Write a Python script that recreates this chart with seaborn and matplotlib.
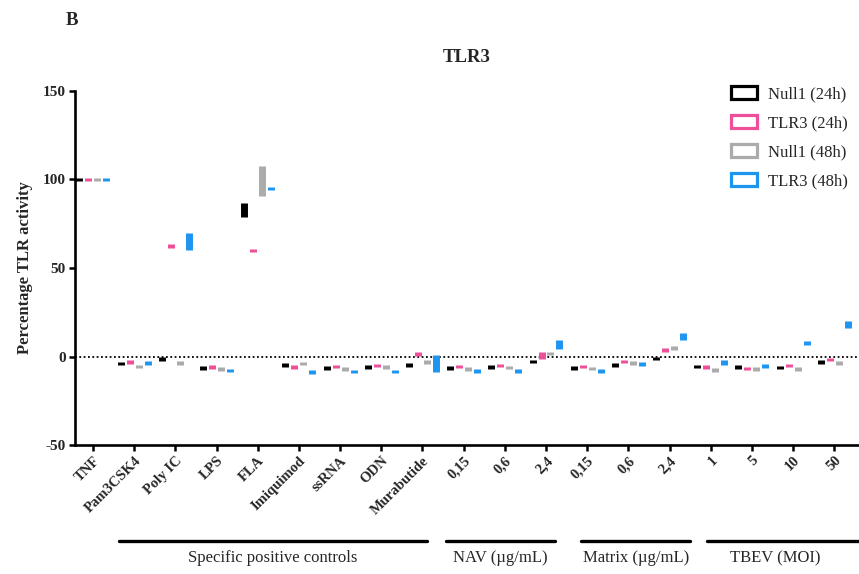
import numpy as np
import pandas as pd
import matplotlib
matplotlib.use("Agg")
import matplotlib.pyplot as plt
import matplotlib.transforms as mtransforms
from matplotlib.patches import Patch
import seaborn as sns

# categories (unique keys) and the labels shown under the ticks
cat_keys = ["TNF", "Pam3CSK4", "Poly IC", "LPS", "FLA", "Imiquimod", "ssRNA", "ODN",
            "Murabutide", "NAV 0,15", "NAV 0,6", "NAV 2,4", "Matrix 0,15", "Matrix 0,6",
            "Matrix 2,4", "TBEV 1", "TBEV 5", "TBEV 10", "TBEV 50"]
tick_labels = ["TNF", "Pam3CSK4", "Poly IC", "LPS", "FLA", "Imiquimod", "ssRNA", "ODN",
               "Murabutide", "0,15", "0,6", "2,4", "0,15", "0,6", "2,4",
               "1", "5", "10", "50"]

series = ["Null1 (24h)", "TLR3 (24h)", "Null1 (48h)", "TLR3 (48h)"]
colors = ["#000000", "#EE4F98", "#ABABAB", "#1E96F0"]

# min / max of each floating bar (percentage TLR activity)
null24_lo = [99, -5, -2.3, -7.4, 78.6, -5.9, -7.4, -7, -5.7, -7.4, -7, -3.8, -7.4, -5.9, -2.1, -6.6, -6.8, -7.2, -4]
null24_hi = [101, -3, -0.3, -5.4, 86.7, -3.9, -5.4, -5, -3.7, -5.4, -5, -1.8, -5.4, -3.9, -0.1, -4.6, -4.8, -5.2, -2]
tlr24_lo = [99, -4, 61.5, -7, 59, -7, -6.6, -6.1, 0.3, -6.6, -6.1, -1.3, -6.6, -3.8, 2.8, -7, -7.8, -6.1, -2.7]
tlr24_hi = [101, -2, 63.5, -5, 61, -5, -4.6, -4.1, 2.3, -4.6, -4.1, 2.6, -4.6, -1.8, 4.8, -5, -5.8, -4.1, -0.7]
null48_lo = [99, -6.6, -4.6, -8, 90.8, -5, -8.1, -7, -4, -8.1, -7.2, 0.6, -7.8, -4.6, 3.7, -8.5, -8, -8, -4.8]
null48_hi = [101, -4.6, -2.6, -6, 107.7, -3, -6.1, -5, -2, -6.1, -5.2, 2.4, -5.8, -2.6, 5.7, -6.5, -6, -6, -2.8]
tlr48_lo = [99, -4.6, 60, -8.9, 94, -9.8, -9.5, -9.5, -8.8, -9.3, -9.3, 4.3, -9.1, -5.5, 9.2, -4.7, -6.5, 6.5, 16]
tlr48_hi = [101, -2.6, 70, -6.9, 96, -7.8, -7.5, -7.5, 0.6, -7.3, -7.3, 9.6, -7.1, -3.2, 13.4, -1.7, -4.5, 8.5, 19.9]

bounds = {
    "Null1 (24h)": (null24_lo, null24_hi),
    "TLR3 (24h)": (tlr24_lo, tlr24_hi),
    "Null1 (48h)": (null48_lo, null48_hi),
    "TLR3 (48h)": (tlr48_lo, tlr48_hi),
}

rows = []
for s in series:
    lo, hi = bounds[s]
    for c, a, b in zip(cat_keys, lo, hi):
        rows.append((c, s, a))
        rows.append((c, s, b))
df = pd.DataFrame(rows, columns=["condition", "series", "activity"])

sns.set_style("ticks")
plt.rcParams["font.family"] = ["Liberation Serif", "DejaVu Serif"]
plt.rcParams["axes.unicode_minus"] = False

fig = plt.figure(figsize=(8.59, 5.74), dpi=100)
ax = fig.add_axes([0.0873, 0.2247, 0.9127, 0.6168])

# floating bars = min..max interval of each group
sns.pointplot(data=df, x="condition", y="activity", hue="series",
              order=cat_keys, hue_order=series, palette=colors,
              errorbar=("pi", 100), dodge=0.654, markers="", linestyles="none",
              err_kws={"linewidth": 5, "linestyle": "-", "solid_capstyle": "butt"},
              legend=False, ax=ax)

ax.axhline(0, color="black", linestyle=(0, (1, 1.4)), linewidth=1.3, zorder=0)

ax.set_ylim(-50, 150)
ax.set_yticks([-50, 0, 50, 100, 150])
ax.set_xlim(-0.436, 18.6)
ax.set_xticks(range(len(cat_keys)))
ax.set_xticklabels(tick_labels, rotation=45, ha="right", rotation_mode="anchor",
                   fontweight="bold", fontsize=10.5)
for lab in ax.get_yticklabels():
    lab.set_fontweight("bold")
    lab.set_fontsize(11)
ax.tick_params(axis="both", width=1.8, length=4.5, color="black", pad=2)
ax.set_xlabel("")
ax.set_ylabel("Percentage TLR activity", fontweight="bold", fontsize=12, labelpad=7)

sns.despine(ax=ax)
for sp in ["left", "bottom"]:
    ax.spines[sp].set_linewidth(1.9)
    ax.spines[sp].set_color("black")

ax.set_title("TLR3", fontweight="bold", fontsize=13.5, pad=21)
fig.text(0.076, 0.965, "B", fontweight="bold", fontsize=13.5, ha="left", va="center")

# legend with outlined boxes
handles = [Patch(facecolor="white", edgecolor=c, linewidth=2.3, label=s)
           for s, c in zip(series, colors)]
fig.legend(handles=handles, loc="upper left", bbox_to_anchor=(0.843, 0.862),
           frameon=False, fontsize=12, handlelength=1.55, handleheight=0.85,
           handletextpad=0.7, labelspacing=0.75, borderaxespad=0)

# group brackets under the tick labels
trans = mtransforms.blended_transform_factory(ax.transData, fig.transFigure)
groups = [("Specific positive controls", 0.63, 8.11),
          ("NAV (µg/mL)", 8.57, 11.21),
          ("Matrix (µg/mL)", 11.86, 14.5),
          ("TBEV (MOI)", 14.92, 18.7)]
for name, x0, x1 in groups:
    ax.plot([x0, x1], [0.0575, 0.0575], color="black", linewidth=2.4,
            transform=trans, clip_on=False, solid_capstyle="round")
    xc = (x0 + min(x1, 18.2)) / 2 if name.startswith("TBEV") else (x0 + x1) / 2
    ax.text(xc, 0.028, name, transform=trans, ha="center", va="center", fontsize=12)

fig.savefig("out.png", dpi=100)
